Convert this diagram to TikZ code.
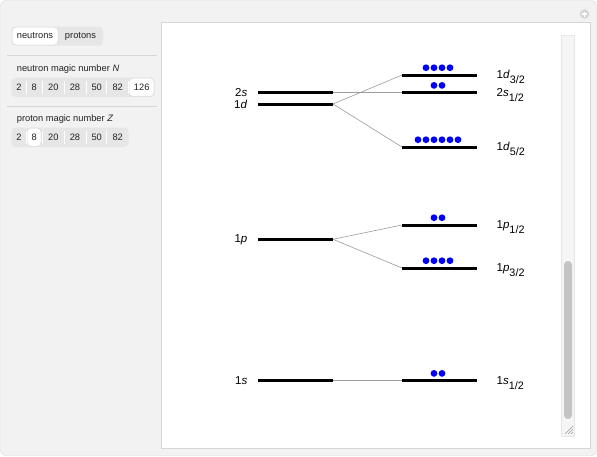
\documentclass[tikz,border=0pt]{standalone}
\usepackage{fontspec}
\setmainfont{Liberation Sans}
\usetikzlibrary{positioning,calc}
\definecolor{framec}{HTML}{F2F2F2}
\definecolor{edgec}{HTML}{D6D6D6}
\definecolor{btnc}{HTML}{E6E6E6}
\definecolor{occc}{HTML}{0000FF}
\definecolor{splitc}{HTML}{9C9C9C}
\definecolor{trackc}{HTML}{F5F5F5}
\definecolor{thumbc}{HTML}{C4C4C4}
\definecolor{inkc}{HTML}{222222}
\newcommand{\orb}[3]{#1\textit{#2}\raisebox{-5pt}{\fontsize{10.8}{12}\selectfont #3}}
\newcommand{\occdots}[2]{%
  \foreach \k in {1,...,#1}
    \fill[occc] ($(#2.center)+({(\k-(#1+1)/2)*8-1.5},-7.3)$) circle (3.4);}

\begin{document}
\begin{tikzpicture}[x=1pt, y=-1pt,
  level/.style={fill=black, minimum width=75pt, minimum height=3pt, inner sep=0pt, outer sep=0pt},
  split/.style={draw=splitc, line width=0.6pt},
  lab/.style={font=\fontsize{11.5}{13}\selectfont, inner sep=0pt},
  ctl/.style={font=\fontsize{9.3}{11}\selectfont, text=inkc, inner sep=0pt},
  group/.style={fill=btnc, rounded corners=4pt},
  pick/.style={fill=white, draw=edgec, line width=0.5pt, rounded corners=4pt},
  divider/.style={draw=white, line width=0.8pt}]
\useasboundingbox (0,0) rectangle (597,456);
% window frame and plot pane
\draw[draw=edgec, fill=framec, rounded corners=5pt] (0.5,0.5) rectangle (596.5,455.5);
\draw[draw=edgec, fill=white, line width=0.8pt] (161,22.5) rectangle (590,448);
\fill[edgec] (584.5,14) circle (4.8);
\draw[white, line width=1.3pt] (582,14) -- (587,14) (584.5,11.5) -- (584.5,16.5);
% scroll bar
\draw[draw=edgec!60, fill=trackc, line width=0.4pt] (561,35) rectangle (574,436);
\fill[thumbc, rounded corners=4pt] (564,261) rectangle (572,419);
\foreach \d in {0,3,6} \draw[splitc, line width=0.5pt] (565+\d,434) -- (573,426+\d);

% controls
\fill[group] (11.5,26.5) rectangle (103,45.5);
\draw[pick] (12,27) rectangle (58,45);
\node[ctl] (neu) at (35,36) {neutrons};
\node[ctl] (pro) at (80.5,36) {protons};
\draw[edgec, line width=0.8pt] (7,55) -- (157,55);
\node[ctl, anchor=base west] (ntitle) at (16.7,71.5) {neutron magic number \textit{N}};
\fill[group] (11.5,77.5) rectangle (154.5,97);
\draw[pick] (129,78) rectangle (154,96.5);
\foreach \x in {26,42.7,64,86,106.7,128} \draw[divider] (\x,81) -- (\x,94);
\foreach \v/\x in {2/19,8/34.3,20/53.3,28/75,50/96.7,82/117.7,126/141.7}
  \node[ctl] (n\v) at (\x,87.3) {\v};
\draw[edgec, line width=0.8pt] (7,106) -- (157,106);
\node[ctl, anchor=base west] (ptitle) at (16.7,121.5) {proton magic number \textit{Z}};
\fill[group] (11.5,127.5) rectangle (128.5,147);
\draw[pick] (27,128) rectangle (41,146.5);
\foreach \x in {26,42.7,64,86,106.7} \draw[divider] (\x,131) -- (\x,144);
\foreach \v/\x in {2/19,8/34.3,20/53.3,28/75,50/96.7,82/117.7}
  \node[ctl] (p\v) at (\x,137.3) {\v};

% shell levels, no spin-orbit
\node[level] (l2s) at (295.5,92.7) {};
\node[level] (l1d) at (295.5,104) {};
\node[level] (l1p) at (295.5,239.3) {};
\node[level] (l1s) at (295.5,380.7) {};
% split levels
\node[level] (r1d32) at (439.5,75) {};
\node[level] (r2s12) at (439.5,92.7) {};
\node[level] (r1d52) at (439.5,147) {};
\node[level] (r1p12) at (439.5,225) {};
\node[level] (r1p32) at (439.5,268) {};
\node[level] (r1s12) at (439.5,380.7) {};

\draw[split] (l2s) -- (r2s12);
\draw[split] (l1d.east) -- (r1d32.west);
\draw[split] (l1d.east) -- (r1d52.west);
\draw[split] (l1p.east) -- (r1p12.west);
\draw[split] (l1p.east) -- (r1p32.west);
\draw[split] (l1s) -- (r1s12);

\node[lab, left=10.5pt of l2s] {2\textit{s}};
\node[lab, left=10.5pt of l1d] {1\textit{d}};
\node[lab, left=10.5pt of l1p] {1\textit{p}};
\node[lab, left=10.5pt of l1s] {1\textit{s}};
\node[lab, anchor=base west] at ([xshift=19.5pt, yshift=-3.3pt]r1d32.east) {\orb{1}{d}{3/2}};
\node[lab, anchor=base west] at ([xshift=19.5pt, yshift=-3.3pt]r2s12.east) {\orb{2}{s}{1/2}};
\node[lab, anchor=base west] at ([xshift=19.5pt, yshift=-3.3pt]r1d52.east) {\orb{1}{d}{5/2}};
\node[lab, anchor=base west] at ([xshift=19.5pt, yshift=-3.3pt]r1p12.east) {\orb{1}{p}{1/2}};
\node[lab, anchor=base west] at ([xshift=19.5pt, yshift=-3.3pt]r1p32.east) {\orb{1}{p}{3/2}};
\node[lab, anchor=base west] at ([xshift=19.5pt, yshift=-3.3pt]r1s12.east) {\orb{1}{s}{1/2}};

% occupancy
\occdots{4}{r1d32}
\occdots{2}{r2s12}
\occdots{6}{r1d52}
\occdots{2}{r1p12}
\occdots{4}{r1p32}
\occdots{2}{r1s12}
\end{tikzpicture}
\end{document}
